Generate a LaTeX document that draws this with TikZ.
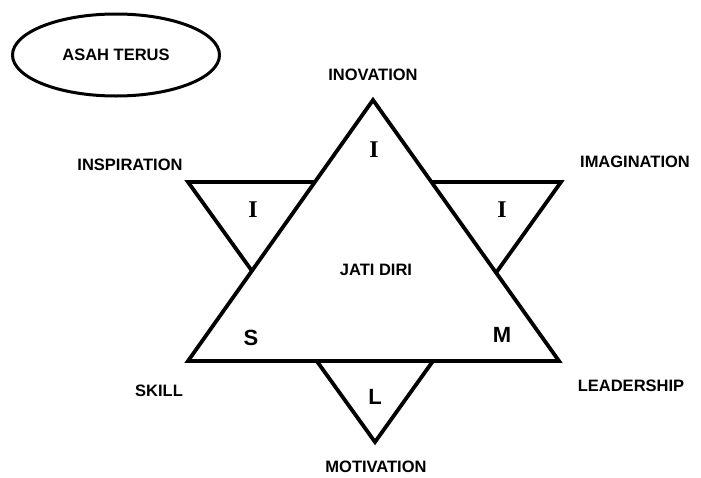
\documentclass[tikz,border=0pt]{standalone}
\usepackage{fontspec}
\usetikzlibrary{shapes.geometric}
\setmainfont{Liberation Sans}
\newfontfamily\serifI{Liberation Serif}
\tikzset{
  lbl/.style={font=\fontsize{16.5}{16.5}\selectfont\bfseries, inner sep=0pt},
  corner/.style={font=\fontsize{22}{22}\selectfont\bfseries, inner sep=0pt},
  tipI/.style={font=\serifI\bfseries\fontsize{24}{24}\selectfont, inner sep=0pt},
  edge/.style={line width=3.8pt, line join=miter, line cap=butt}
}
\begin{document}
\begin{tikzpicture}[x=1pt,y=-1pt]
\useasboundingbox (0,0) rectangle (701,477);
% up triangle
\coordinate (T) at (373,100);
\coordinate (BL) at (188,361);
\coordinate (BR) at (559,361);
% down triangle
\coordinate (DL) at (188,182);
\coordinate (DR) at (561,182);
\coordinate (DB) at (375,442);
% intersections
\coordinate (XL1) at (intersection of T--BL and DL--DR);
\coordinate (XL2) at (intersection of T--BL and DL--DB);
\coordinate (XR1) at (intersection of T--BR and DL--DR);
\coordinate (XR2) at (intersection of T--BR and DR--DB);
\coordinate (XB1) at (intersection of BL--BR and DL--DB);
\coordinate (XB2) at (intersection of BL--BR and DR--DB);
\draw[edge] (T) -- (BL) -- (BR) -- cycle;
\draw[edge] (XL1) -- (DL) -- (XL2);
\draw[edge] (XR1) -- (DR) -- (XR2);
\draw[edge] (XB1) -- (DB) -- (XB2);
% ellipse
\node[draw, line width=3pt, ellipse, minimum width=207pt, minimum height=82pt, lbl] (asah) at (116,55) {ASAH TERUS};
% labels
\node[lbl] (inov) at (373,75) {INOVATION};
\node[lbl] (insp) at (130,165) {INSPIRATION};
\node[lbl] (imag) at (635,162) {IMAGINATION};
\node[lbl] (skill) at (159,391) {SKILL};
\node[lbl] (lead) at (631,386) {LEADERSHIP};
\node[lbl] (motiv) at (376,467) {MOTIVATION};
\node[lbl] (jati) at (376,270) {JATI DIRI};
% inner letters
\node[tipI] (i1) at (374,150) {I};
\node[tipI] (i2) at (253,210) {I};
\node[tipI] (i3) at (502,210) {I};
\node[corner] (s) at (251,338) {S};
\node[corner] (m) at (502,335) {M};
\node[corner] (l) at (375,397) {L};
\end{tikzpicture}
\end{document}
